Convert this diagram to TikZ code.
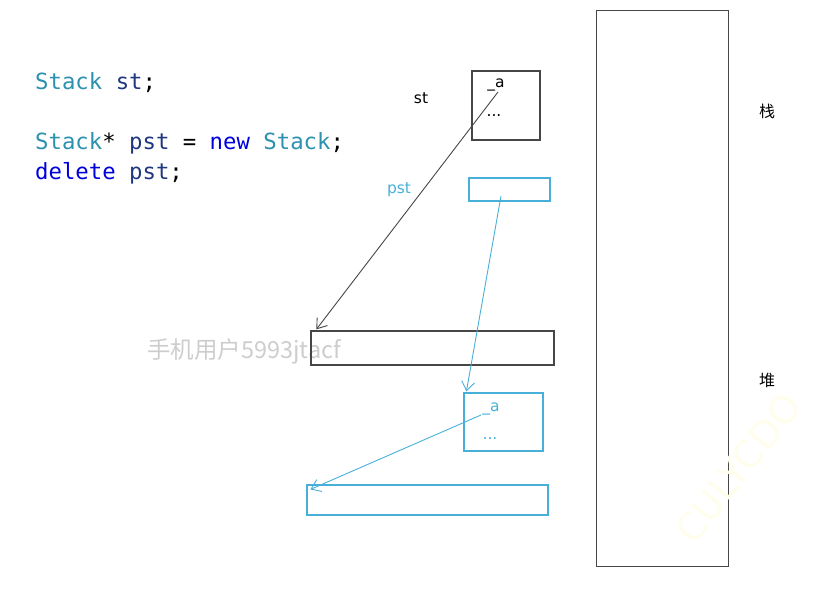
\documentclass[tikz,border=0pt]{standalone}
\usepackage{fontspec}
\setmainfont{DejaVu Sans}
\setmonofont{DejaVu Sans Mono}
\newfontfamily\cjkfont{Noto Sans CJK SC}
\usetikzlibrary{arrows.meta,calc}
\definecolor{typeteal}{RGB}{43,145,175}
\definecolor{varnavy}{RGB}{31,55,127}
\definecolor{keyblue}{RGB}{0,0,220}
\definecolor{heapcyan}{RGB}{72,176,216}
\definecolor{boxgray}{RGB}{70,70,70}
\definecolor{markgray}{RGB}{205,205,205}

\begin{document}
\begin{tikzpicture}[x=1pt,y=-1pt]
    \tikzstyle{code}=[anchor=west,inner sep=0,font=\ttfamily\fontsize{22.3}{26}\selectfont]
    \tikzstyle{blk}=[draw=boxgray,line width=1.3pt,rectangle,inner sep=0]
    \tikzstyle{cyn}=[draw=heapcyan,line width=1.2pt,rectangle,inner sep=0]
    \tikzstyle{lbl}=[inner sep=0,font=\fontsize{15.5}{17}\selectfont]
    \tikzstyle{ptr}=[-{Straight Barb[length=9pt,width=13pt]},line width=0.9pt]
    \useasboundingbox (0,0) rectangle (817,598);
    % code
    \path (35,83) node[code] (l1) {\textcolor{typeteal}{Stack} \textcolor{varnavy}{st};};
    \path (35,143) node[code] (l2) {\textcolor{typeteal}{Stack}* \textcolor{varnavy}{pst} = \textcolor{keyblue}{new} \textcolor{typeteal}{Stack};};
    \path (35,173) node[code] (l3) {\textcolor{keyblue}{delete} \textcolor{varnavy}{pst};};
    % memory column
    \path (662,288) node[blk,line width=1pt,minimum width=132,minimum height=556] (mem) {};
    \path (767,111) node[lbl,font=\cjkfont\fontsize{16}{18}\selectfont] (stk) {栈};
    \path (767,380) node[lbl,font=\cjkfont\fontsize{16}{18}\selectfont] (hp) {堆};
    % stack objects
    \path (506,105.5) node[blk,minimum width=68,minimum height=69] (st) {};
    \path (421,98) node[lbl] (stname) {st};
    \path (496,85) node[lbl] (sta) {\_a};
    \path (494,116) node[lbl] (stdots) {...};
    \path (509.5,189.5) node[cyn,minimum width=81,minimum height=23] (pst) {};
    \path (399,190) node[lbl,text=heapcyan] (pstname) {pst};
    % heap objects
    \path (147,351) node[anchor=west,inner sep=0,text=markgray,font=\cjkfont\fontsize{23.5}{26}\selectfont] (mark) {手机用户5993jtacf};
    \path (432.5,348) node[blk,minimum width=243,minimum height=34] (big) {};
    \path (503.5,422) node[cyn,minimum width=79,minimum height=58] (obj) {};
    \path (491,409) node[lbl,text=heapcyan] (obja) {\_a};
    \path (490,439) node[lbl,text=heapcyan] (objdots) {...};
    \path (427.5,500) node[cyn,minimum width=241,minimum height=30] (bigc) {};
    \path (738,468) node[rotate=52,text=yellow!7,font=\fontsize{38}{42}\selectfont] (wm) {CULYCDO};
    % pointers
    \coordinate (sta0) at (498,92);
    \coordinate (pst0) at (501,196);
    \coordinate (obja0) at (481,415);
    \draw[ptr,boxgray] (sta0) -- ($(big.north west)+(6,-1)$);
    \draw[ptr,heapcyan] (pst0) -- ($(obj.north west)+(3,-1)$);
    \draw[ptr,heapcyan] (obja0) -- ($(bigc.north west)+(4,5)$);
\end{tikzpicture}
\end{document}
